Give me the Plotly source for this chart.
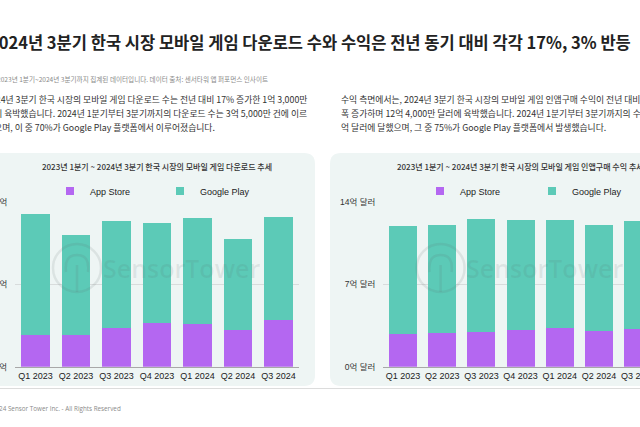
import plotly.graph_objects as go

# ---------------- data ----------------
quarters = ["Q1 2023", "Q2 2023", "Q3 2023", "Q4 2023", "Q1 2024", "Q2 2024", "Q3 2024"]
# downloads (millions)
dl_app_store = [27, 27, 33, 37, 36.5, 31.5, 40]
dl_google_play = [102.5, 85, 90.5, 85, 90, 76.5, 87]
# revenue (억 달러)
rev_app_store = [2.80, 2.88, 2.97, 3.09, 3.26, 3.03, 3.17]
rev_google_play = [9.14, 9.17, 9.59, 9.38, 9.21, 9.02, 9.22]

dl_tickvals = [0, 70, 140]
dl_ticktext = ["0억", "0.7억", "1.4억"]
rev_tickvals = [0, 7, 14]
rev_ticktext = ["0억 달러", "7억 달러", "14억 달러"]

series_names = ["App Store", "Google Play"]

title_text = "2024년 3분기 한국 시장 모바일 게임 다운로드 수와 수익은 전년 동기 대비 각각 17%, 3% 반등"
subtitle_text = "2023년 1분기~2024년 3분기까지 집계된 데이터입니다. 데이터 출처: 센서타워 앱 퍼포먼스 인사이트"
left_para = [
    "2024년 3분기 한국 시장의 모바일 게임 다운로드 수는 전년 대비 17% 증가한 1억 3,000만",
    "건에 육박했습니다. 2024년 1분기부터 3분기까지의 다운로드 수는 3억 5,000만 건에 이르",
    "렀으며, 이 중 70%가 Google Play 플랫폼에서 이루어졌습니다.",
]
right_para = [
    "수익 측면에서는, 2024년 3분기 한국 시장의 모바일 게임 인앱구매 수익이 전년 대비 3% 소",
    "폭 증가하며 12억 4,000만 달러에 육박했습니다. 2024년 1분기부터 3분기까지의 수익은 37",
    "억 달러에 달했으며, 그 중 75%가 Google Play 플랫폼에서 발생했습니다.",
]
left_chart_title = "2023년 1분기 ~ 2024년 3분기 한국 시장의 모바일 게임 다운로드 추세"
right_chart_title = "2023년 1분기 ~ 2024년 3분기 한국 시장의 모바일 게임 인앱구매 수익 추세"
footer_text = "© 2024 Sensor Tower Inc. - All Rights Reserved"
watermark = "SensorTower"

# ---------------- style ----------------
W, H = 640, 427
PURPLE = "#b467f1"
TEAL = "#5ccab7"
CARD = "#eef5f4"
GRID = "#d8dcdc"
KR = "Noto Sans CJK KR"
LAT = "Liberation Sans, Arial, Noto Sans CJK KR"


def px(x):
    return x / W


def py(y):
    return 1 - y / H


fig = go.Figure()
colors = [PURPLE, TEAL]
for i, (vals_l, vals_r) in enumerate([(dl_app_store, rev_app_store), (dl_google_play, rev_google_play)]):
    fig.add_trace(go.Bar(x=quarters, y=vals_l, name=series_names[i], marker=dict(color=colors[i], line=dict(width=0)),
                         xaxis="x", yaxis="y", showlegend=False))
    fig.add_trace(go.Bar(x=quarters, y=vals_r, name=series_names[i], marker=dict(color=colors[i], line=dict(width=0)),
                         xaxis="x2", yaxis="y2", showlegend=False))
# legend entries
for i in range(2):
    fig.add_trace(go.Scatter(x=[None], y=[None], mode="markers", name=series_names[i],
                             marker=dict(symbol="square", size=8, color=colors[i]),
                             xaxis="x", yaxis="y", legend="legend"))
    fig.add_trace(go.Scatter(x=[None], y=[None], mode="markers", name=series_names[i],
                             marker=dict(symbol="square", size=8, color=colors[i]),
                             xaxis="x2", yaxis="y2", legend="legend2"))

ydom = [py(366.7), py(201.7)]
axis_common_x = dict(type="category", showgrid=False, showline=True, linecolor="#a8a8a8", linewidth=1,
                     ticks="", tickfont=dict(family=LAT, size=9, color="#222"), fixedrange=True,
                     categoryorder="array", categoryarray=quarters, ticklabelstandoff=0, automargin=False)
axis_common_y = dict(showgrid=True, gridcolor=GRID, gridwidth=1, zeroline=False, showline=False,
                     ticks="", tickfont=dict(family=LAT, size=8.5, color="#333"), domain=ydom,
                     ticklabelstandoff=7, automargin=False, fixedrange=True)

legend_common = dict(orientation="h", yanchor="middle", y=py(191), xanchor="left",
                     font=dict(family=LAT, size=9, color="#222"), bgcolor="rgba(0,0,0,0)",
                     entrywidthmode="pixels", itemclick=False, itemdoubleclick=False,
                     traceorder="normal")

fig.update_layout(
    template="plotly",
    width=W, height=H,
    margin=dict(l=0, r=0, t=0, b=0, autoexpand=False),
    paper_bgcolor="white", plot_bgcolor="rgba(0,0,0,0)",
    barmode="stack", bargap=0.29,
    xaxis=dict(domain=[px(15.2), px(298.8)], range=[-0.5, 6.5], anchor="y", **axis_common_x),
    yaxis=dict(range=[0, 140], tickvals=dl_tickvals, ticktext=dl_ticktext, anchor="x", **axis_common_y),
    xaxis2=dict(domain=[px(383.4), 1.0], range=[-0.5, 6.5 - (657.8 - 640) / 39.2], anchor="y2", **axis_common_x),
    yaxis2=dict(range=[0, 14], tickvals=rev_tickvals, ticktext=rev_ticktext, anchor="x2", **axis_common_y),
    legend=dict(x=px(50), entrywidth=65, **legend_common),
    legend2=dict(x=px(420), entrywidth=67, **legend_common),
)


def rounded_rect(x0, y0, x1, y1, r):
    rx, ry = r / W, r / H
    X0, X1 = px(x0), px(x1)
    Y0, Y1 = py(y0), py(y1)  # Y0 top (larger), Y1 bottom
    return (f"M{X0 + rx},{Y0} L{X1 - rx},{Y0} Q{X1},{Y0} {X1},{Y0 - ry} "
            f"L{X1},{Y1 + ry} Q{X1},{Y1} {X1 - rx},{Y1} L{X0 + rx},{Y1} Q{X0},{Y1} {X0},{Y1 + ry} "
            f"L{X0},{Y0 - ry} Q{X0},{Y0} {X0 + rx},{Y0} Z")


shapes = [
    dict(type="path", path=rounded_rect(-30, 153, 315, 386, 11), xref="paper", yref="paper",
         fillcolor=CARD, line=dict(width=0), layer="below"),
    dict(type="path", path=rounded_rect(330, 153, 700, 386, 11), xref="paper", yref="paper",
         fillcolor=CARD, line=dict(width=0), layer="below"),
    dict(type="line", x0=0, x1=1, y0=py(388.5), y1=py(388.5), xref="paper", yref="paper",
         line=dict(color="#dcdcdc", width=1.2)),
]
annotations = []

# watermarks
for cx in [157.0, 520.6]:
    ccx, ccy = cx - 80, 268
    shapes.append(dict(type="circle", xref="paper", yref="paper", x0=px(ccx - 24), x1=px(ccx + 24),
                       y0=py(ccy + 24), y1=py(ccy - 24), line=dict(color="rgba(90,110,110,0.13)", width=2.5),
                       layer="above"))
    shapes.append(dict(type="path", xref="paper", yref="paper",
                       path=(f"M{px(ccx - 11)},{py(ccy + 4)} Q{px(ccx - 13)},{py(ccy - 13)} {px(ccx)},{py(ccy - 13)} "
                             f"Q{px(ccx + 13)},{py(ccy - 13)} {px(ccx + 11)},{py(ccy + 4)}"),
                       line=dict(color="rgba(90,110,110,0.13)", width=2.5), layer="above"))
    shapes.append(dict(type="line", xref="paper", yref="paper", x0=px(ccx), x1=px(ccx),
                       y0=py(ccy - 3), y1=py(ccy + 24), line=dict(color="rgba(90,110,110,0.13)", width=2.5),
                       layer="above"))
    annotations.append(dict(text=watermark, x=px(cx + 24), y=py(268), xref="paper", yref="paper",
                            showarrow=False, xanchor="center", yanchor="middle",
                            font=dict(family="Open Sans", size=25, color="rgba(90,110,110,0.12)", weight=600)))

# title and texts
annotations.append(dict(text=title_text, x=px(-13), y=py(41.5), xref="paper", yref="paper", showarrow=False,
                        xanchor="left", yanchor="middle",
                        font=dict(family=KR, size=16.5, color="#222", weight="bold")))
annotations.append(dict(text=subtitle_text, x=px(-5), y=py(79), xref="paper", yref="paper", showarrow=False,
                        xanchor="left", yanchor="middle", font=dict(family=KR, size=6.6, color="#8a8a8a")))
for i, line in enumerate(left_para):
    annotations.append(dict(text=line, x=px(-16), y=py(99 + 14.3 * i), xref="paper", yref="paper",
                            showarrow=False, xanchor="left", yanchor="middle",
                            font=dict(family=KR, size=8.8, color="#333")))
for i, line in enumerate(right_para):
    annotations.append(dict(text=line, x=px(339), y=py(99 + 14.3 * i), xref="paper", yref="paper",
                            showarrow=False, xanchor="left", yanchor="middle",
                            font=dict(family=KR, size=8.8, color="#333")))
annotations.append(dict(text=left_chart_title, x=px(157.0), y=py(166), xref="paper", yref="paper",
                        showarrow=False, xanchor="center", yanchor="middle",
                        font=dict(family=KR, size=8, color="#333", weight=500)))
annotations.append(dict(text=right_chart_title, x=px(520.6), y=py(166), xref="paper", yref="paper",
                        showarrow=False, xanchor="center", yanchor="middle",
                        font=dict(family=KR, size=8, color="#333", weight=500)))
annotations.append(dict(text=footer_text, x=px(-17), y=py(408), xref="paper", yref="paper",
                        showarrow=False, xanchor="left", yanchor="middle",
                        font=dict(family="Open Sans", size=6.3, color="#8a8a8a")))

fig.update_layout(shapes=shapes, annotations=annotations)
fig.write_html("out.html", config={"displayModeBar": False},
               post_script="document.body.style.margin='0';document.body.style.overflow='hidden';")
